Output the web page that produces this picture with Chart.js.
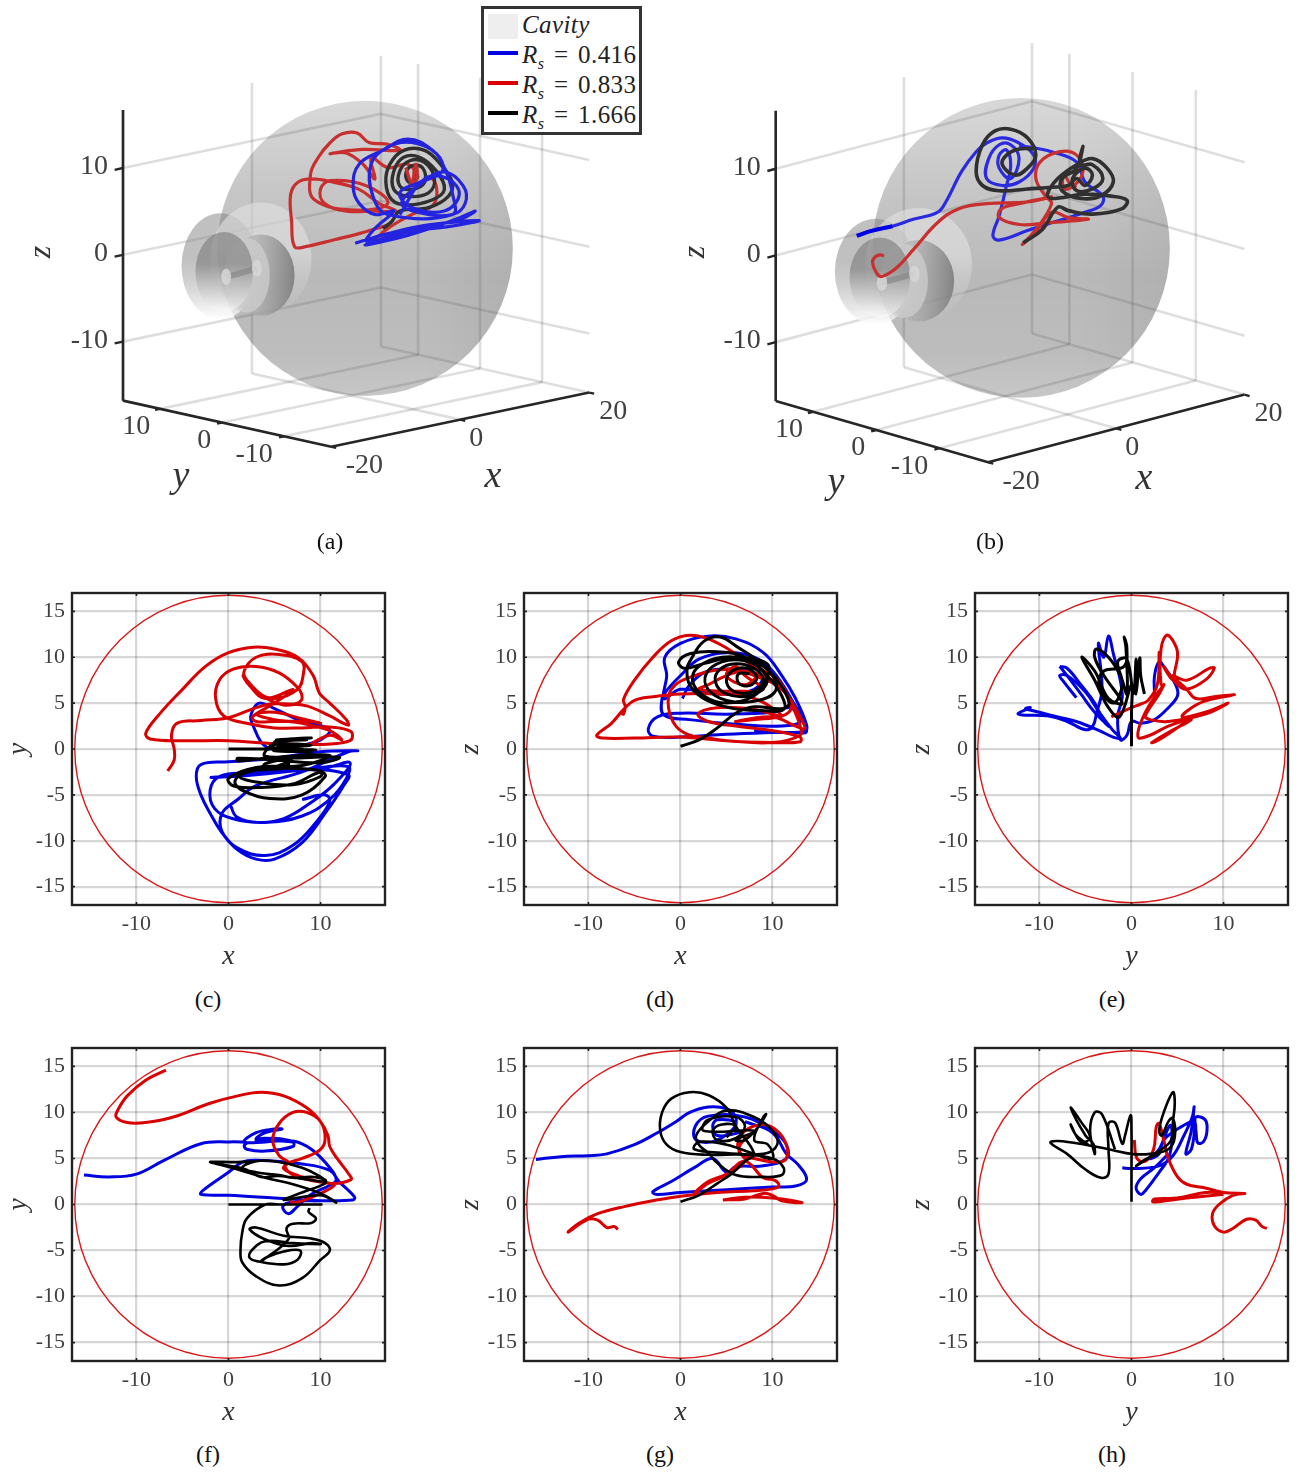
<!DOCTYPE html>
<html>
<head>
<meta charset="utf-8">
<script src="https://cdn.jsdelivr.net/npm/chart.js@4"></script>
<style>
  html, body { margin: 0; background: #fff; }
  #page { position: relative; width: 1300px; height: 1473px; overflow: hidden; font-family: "Liberation Serif", serif; }
  canvas { position: absolute; }
  .cap { position: absolute; font-size: 24px; color: #111; transform: translate(-50%, -50%); }
  #legend { position: absolute; left: 481px; top: 6px; width: 155px; height: 123px; border: 3px solid #333; background: #fff; }
  .row { position: absolute; left: 38px; font-size: 25px; color: #222; white-space: nowrap; line-height: 30px; word-spacing: 3px; letter-spacing: 0.4px; }
  .row i { font-style: italic; }
  .row sub { font-size: 16px; font-style: italic; line-height: 0; }
  .sw { position: absolute; left: 4px; width: 30px; height: 4px; }
</style>
</head>
<body>
<div id="page">
  <div id="legend">
    <div class="sw" style="top:5px;height:25px;background:#eee"></div><div class="row" style="top:1px"><i>Cavity</i></div>
    <div class="sw" style="top:42px;background:#0000e0"></div><div class="row" style="top:31px"><i>R</i><sub>s</sub> = 0.416</div>
    <div class="sw" style="top:72px;background:#d80000"></div><div class="row" style="top:61px"><i>R</i><sub>s</sub> = 0.833</div>
    <div class="sw" style="top:102px;background:#000"></div><div class="row" style="top:91px"><i>R</i><sub>s</sub> = 1.666</div>
  </div>
</div>
<script>
// tick labels
const xTicks2d = [-10, 0, 10];
const yTicks2d = [-15, -10, -5, 0, 5, 10, 15];
const xTicks3d = [-20, 0, 20];
const yTicks3d = [10, 0, -10];
const zTicks3d = [10, 0, -10];
const cavityRadius = 16.7;
const axisLim = 17;

// panel (c) x-y
const cRed = [[-6.6,-2.4],[-5.9,-1.2],[-5.9,0],[-6.2,1.5],[-5.6,2.8],[-3,3.1],[0,3.4],[2.7,4.4],[4.5,4.9],[6.5,4.9],[8.5,4.7],[11,3.6],[13,2.6],[12.8,3.2],[11,5],[10,5.9],[9.7,6.5],[9.2,8],[7.5,10],[5,10.9],[2.7,11.1],[0,10.5],[-2.5,9],[-5,6.5],[-7.5,3.8],[-9,1.7],[-8.5,1.1],[-5,0.9],[0,0.9],[5,0.6],[10,0.5],[13.2,0.9],[13.3,1.9],[11,2.4],[8,2.3],[5,2.3],[2.5,2.7],[-0.5,3.6],[-1.4,5.5],[-1,7.5],[0.5,8.7],[3,9],[5.5,8.3],[7.5,6.7],[8,5.6],[7.5,5],[6,4.8],[4,5.6],[2,7.5],[1.7,8.5],[3,10],[5.5,10.3],[8,9.5],[8.1,8],[7.5,6.5],[5,5.5],[3,6.3],[1.6,8],[2.2,7],[4,5.5],[7,6.5],[5,5],[2.6,3.5],[3,3],[5,3],[9,3],[10,2.8],[8,3.3],[5,4],[3,3.8],[5,3.2],[8,2.8],[11,2],[12.3,1],[11,1.5],[9,0.6]];
const cBlue = [[0.2,-6.1],[0.9,-7.4],[3.3,-8],[6,-7.6],[9,-5.8],[11.5,-3.8],[13.2,-1.5],[10,-2.2],[6,-2.3],[2,-2.8],[-1.9,-3.1],[3,-2.8],[8,-2.3],[13,-1.9],[12.8,-3.2],[11,-5.5],[8,-7.3],[4,-8],[0.5,-7.6],[-1.5,-6.5],[-2,-4.5],[-1,-3],[2,-2.6],[8,-2.2],[13,-2.8],[12.5,-4],[10.5,-7],[8,-10.2],[5,-12],[3,-12],[1,-11],[-0.8,-9],[-2,-7],[-3,-5],[-3.5,-3],[-3,-1.7],[0,-1.4],[5,-1],[10,-0.3],[14,-0.2],[13,-0.3],[8,-2.5],[3,-4],[1,-5.5],[-0.7,-7],[-0.7,-9],[1,-10.8],[4,-11.6],[7,-10.5],[9.5,-8],[11,-5.7],[10.5,-5],[8,-5.5]];
const cBlueUpper = [[4.5,-0.1],[3.5,0.8],[2.7,2.5],[2.4,3.5],[3,4.8],[3.6,5],[5,4.4],[8,3],[11,2.1],[10,1],[8,0.4]];
const cBlack = [[0,0],[5,0],[9.5,-0.1],[5,-0.2],[5,0.5],[9,0.4],[5,0.1],[9,-0.3],[5,0.8],[9,1.2],[5.2,1],[8.5,1],[5,0.6],[4,-0.8],[12,-0.9],[10,-1.5],[5,-1.2],[1,-1],[1,-1.3],[5,-0.9],[11,-0.7],[8,-1.8],[3,-2],[0,-3.2],[0.5,-4],[3,-4.2],[7,-3.8],[10,-2.5],[10.5,-3],[8,-5],[4.5,-5.4],[1.5,-4.5],[0.7,-3.5],[2,-2.5],[6,-2.1],[10,-2.4],[10,-3],[7,-3.9],[3,-3.6],[1.2,-3],[3,-2.3],[6,-2.1],[6.5,-1.5],[3.8,-2.3],[4,-1.6],[7,-1]];

// panel (d) x-z
const dRed = [[-6.4,3.9],[-6.2,3.8],[-6,4.6],[-6.2,5.4],[-5,7.5],[-3,10],[-1,11.8],[1,12.4],[3,12],[5,11],[8,9],[10,8],[11,7],[12,5],[13,2.5],[13,1.5],[10,0.7],[5,0.9],[0,1.3],[-5,1.2],[-8.5,1.2],[-9.1,1.5],[-7.5,2.8],[-6.1,4.4],[-5,5.3],[-3,5.7],[0,6],[4,6],[8,5.5],[11,3.6],[8,4.3],[4,4.5],[1.9,3.8],[3,3],[6,2.5],[10,2],[13,1.3],[13,0.8],[10,0.7],[5,0.9],[2.5,1.3],[1,1.5],[-0.5,2.5],[-1.3,4.5],[-1,6.5],[1,7.8],[5,8.7],[8,8],[11,6.5],[12,4.5],[11,3.6],[8,3.2],[6,3],[10,3.5],[12.5,2.5],[13.5,2.2],[13,3.5],[11.5,6],[10,7.5],[7,8.5],[5,8],[3,7],[2,6.5],[6,6.3],[9,6.5],[7,8],[6,9],[5,8],[7,7],[8.5,8]];
const dBlue = [[0.2,5.5],[1,7],[3,8.5],[6,8.7],[9,8.5],[8,6.5],[4,6],[0,6.5],[-1.8,5.5],[-1.5,8],[-1.7,10],[0,11.5],[3,12.3],[6,12],[9,10.5],[11,8],[12.5,5.5],[13.7,2.6],[13.5,1.9],[10,1.8],[5,1.6],[0,1.3],[-3,1.4],[-3.5,2.2],[-2.5,3.5],[0,3.9],[5,3.8],[10,4],[12,4.5],[13,3],[11,2.5],[6,2.7],[1,3.2],[-1.8,3.7],[-2,5.5],[-1.4,6.5],[0,8],[2,9.8],[5,10.5],[8,10],[10,8.5],[12,5.5],[13.7,2],[12,1.8],[8,2]];
const dBlack = [[0,0.3],[2,1],[4,2.3],[6,3.9],[8,4.6],[11,4.4],[11.8,5],[10.5,7.5],[8.3,9.7],[6.2,11.1],[4.3,12.2],[2.5,11.7],[1.1,9.7],[0.7,8.7],[1.1,6.8],[2.9,5.3],[5.8,4.4],[8.7,4.2],[11.2,4.3],[11,5.8],[9.4,8],[7,10],[4,10.6],[1.1,10.4],[-0.2,9.5],[0.4,8.8],[2.5,9.3],[5.8,10],[9.4,9.3],[9.3,7.5],[8,5.8],[5,5],[2.5,5.8],[1.3,7.5],[2,9],[4.5,10],[7.5,9.7],[9.8,8.3],[10.3,6.3],[8,5.2],[5,5.3],[3,6.5],[2.8,8.2],[4.5,9.5],[7,9.6],[9,8.5],[9.3,7],[7.5,5.8],[5,6],[3.8,7.3],[4.3,8.7],[6,9.3],[8,8.8],[9,7.5],[8,6.3],[6,6.2],[5,7.3],[5.6,8.5],[7.2,8.8],[8.3,7.8],[7.5,6.9],[6.3,7.2],[6.3,8.2],[7.5,8.2]];

// panel (e) y-z
const eRed = [[-2.2,3.5],[0,4.5],[1,4.9],[1.8,5.3],[2.8,7],[3,10.5],[3,9],[3.2,7],[3.1,9],[3.2,10.8],[3.5,12],[4,12.4],[4.9,11],[5,10],[4.7,8.5],[4.5,7.5],[3.5,9],[5,7],[6,6.5],[8,7.5],[9,8.8],[8.5,8.8],[6,7.5],[4.5,8],[6,6.5],[7,5.5],[9,5.7],[11.2,5.9],[9,5.5],[7,4.8],[5.5,3.5],[8,4],[10.5,5],[8,3.8],[4,3],[2,3.2],[1.5,3.6],[3,6],[3.5,7],[1.5,4],[0.7,1.3],[2,1.5],[4,2.5],[6.5,3.2],[4,1.8],[2.2,0.7],[3,1],[6,3]];
const eBlue = [[-6,5.6],[-7.5,7.5],[-7.8,8],[-7,8],[-5,6.2],[-3.5,4],[-2,2],[-1.2,1.2],[-2,1.3],[-3.5,2],[-6,3],[-8,3.5],[-10,4],[-11.5,4.4],[-11,4.5],[-12.3,3.8],[-9,3.6],[-7,3],[-5,2.1],[-4.2,2.5],[-3.8,3.9],[-3.2,6.5],[-3.6,11.5],[-3,10],[-2.5,12.3],[-2,10.5],[-1,6],[-1.5,3.5],[-1.2,1],[-0.5,1.5],[0,3],[1,2.8],[2.5,3.2],[4,4.5],[5,5.8],[4.8,7],[3.5,9],[3,9.5],[2.5,8],[2.5,6]];
const eBlueLeft = [[-7.8,9],[-7,8.8],[-5.5,7],[-4,5],[-3,3],[-2.5,2.5],[-4,4],[-5.5,6],[-7,8],[-7.8,9]];
const eBlack = [[0,0.3],[0,4],[0,7],[-1.3,3.5],[-2.5,4.5],[-4,7.5],[-5.4,10],[-4,8.5],[-2.5,5.5],[-1,5],[-3,8],[-4,10],[-3.8,10.9],[-2.5,10],[-1.2,8],[-0.5,6],[-0.6,11],[-0.8,12.2],[-0.5,11],[-0.8,9],[-3,8.5],[-3.5,7],[-2,5],[-1,7],[-1.5,9.5],[-0.5,9.8],[0.2,6],[0.5,9.8],[0.5,6],[0.9,9.9],[1,8],[1.4,6]];

// panel (f) x-y
const fRed = [[-6.8,14.6],[-9,13.5],[-11,11.8],[-12,10.3],[-12.2,9.5],[-11,8.9],[-9,8.9],[-6,9.5],[-2,11],[1,11.8],[3.5,12.2],[6,11.8],[8.5,10.5],[10,9],[10.8,7.5],[11,6.3],[11.8,5],[13,3.4],[13.3,2.7],[11,2.3],[8,3],[6,3.9],[6.5,4.5],[8,5],[10,6],[10.5,7.2],[10,9],[8.5,10],[7,10],[5.5,8.8],[4.8,7],[5.5,5.3],[6.5,4.6],[6.1,4.2],[7,3.2],[9,2.6],[11,2.3],[11.5,2.1],[10,1.2],[8,0.4],[7,0.2],[6.7,0.4]];
const fBlue = [[-15.7,3.2],[-13,3],[-10,3.3],[-7,4.8],[-3,6.6],[0,6.8],[2,6.7],[1.7,6.4],[2,6],[4,5.8],[7,6.3],[7,6.8],[4,7.2],[3,7],[5,7.2],[7,6.8],[4.5,7],[3,7.1],[4,7.8],[5.8,8.2],[5,8.2],[3,7.8],[1.7,6.8],[4,6.8],[7,6.9],[9,6],[11,4],[11.7,2.7],[11,2.1],[9,1.1],[7.5,-0.2],[6.5,-1],[5.9,-0.2],[7,0.3],[10,0.4],[13.5,0.5],[13.7,0.8],[12,2.5],[11,3.7],[8,4.4],[3,4.8],[1.5,4.6],[0,3.5],[-2.8,1.5],[-3,1.1],[0,1],[5,0.7],[10,0.4]];
const fBlack = [[0,0],[10,0],[5.5,0],[4,0],[2,-1.5],[1.5,-3],[1.3,-5],[1.5,-6.3],[3,-7.8],[5.5,-8.8],[8,-8],[10,-6],[11,-5],[10.5,-4.2],[9,-3.7],[6,-3.4],[3,-2.5],[2.3,-2.7],[4,-3.8],[6.5,-4.5],[9,-4.2],[10,-4.3],[7,-4.2],[4,-4],[2.5,-5],[2.3,-5.8],[3.3,-6.2],[6,-6.5],[7.5,-6],[7.8,-5],[6,-5.1],[4,-5.8],[3.5,-6.2],[6.5,-3.8],[6.3,-2.6],[7,-2.1],[9,-2],[9.5,-1.5],[8.7,-0.8],[8.8,-0.4]];
const fBlackUpper = [[-2,4.6],[1,3.8],[4,2.9],[7,2.2],[10,1.2],[11.7,0.2],[10,1],[6,0.5],[8,1.3],[10.5,2.3],[10.5,2.7],[9,3],[7,2.9],[5.5,3.2],[3,3.5],[1.5,4],[3,4.7],[5,4.7],[8,4],[10,3],[10.5,2.5],[8,2.8],[5.4,3.1],[3.5,3],[1.6,3.9],[-2,4.6],[1,4.6],[3,4.7]];

// panel (g) x-z
const gRed = [[-6.8,-2.7],[-7.2,-2.4],[-8,-2.5],[-9,-1.7],[-10,-1.6],[-12.2,-3],[-11,-2],[-9,-1],[-6,-0.2],[-3,0.4],[0,0.9],[4,1.3],[8,1.5],[10,1.7],[10.7,2],[10.3,2.6],[9,2.9],[7,4.7],[5,3.3],[3,2.5],[1.5,1.2],[3,2.3],[5,3.2],[7,4.7],[6.5,5.6],[6.2,6.5],[7,8],[9,8.7],[10.5,8],[11.5,6.5],[11.5,5],[10.5,4.6],[8,5],[6.5,5.5],[6.5,6.5],[7.5,7.5]];
const gRedLow = [[4.6,0.5],[7,0.8],[10,0.7],[13.2,0.2],[11,0.4],[10,1],[9,1.2],[7,0.6],[4.6,0.5]];
const gBlue = [[-15.7,4.9],[-13,5.2],[-10,5.3],[-8,5.5],[-5,6.5],[-2.5,7.8],[-0.5,9],[1,10],[3,10.6],[5,10.4],[6,9.5],[6,8],[6.3,7.8],[4,7.5],[3.5,8.5],[4,9.2],[6,8.8],[4,7],[1.7,7],[1.6,8.5],[3,9.6],[7,9.5],[10,8],[11.5,6.5],[11.5,5],[9,4.2],[6,4.1],[5,3.5],[3.5,5],[1.5,4],[-1,2.5],[-3,1.4],[-2.7,1.1],[0,1.3],[5,1.6],[10,1.9],[12.5,2],[13.7,2.7],[12.8,4.3],[11.5,5.5],[10,7.8],[7,9]];
const gBlack = [[0,0.3],[2,1],[4,2.3],[5.5,3.3],[7,4.7],[8,5.5],[6,8.5],[5,10.5],[3,11.9],[1,12.2],[-1,11.5],[-2,10],[-2.2,8],[-1.5,6.5],[0,5.7],[3,5.4],[7,5.4],[10,5],[11.2,4],[11,3.2],[9,3],[6,3.2],[4,4.5],[3,5.6],[2,6.5],[1.7,7.5],[3,9],[5,10.2],[8,9.5],[10,8],[10.5,6.5],[9,5.5],[5,5.6],[1.5,6],[2,6.8],[5,6.5],[8,5.5],[10,5],[9.5,6.5],[8,7],[9,9.5],[9.3,9.8],[8.5,8.5],[7,7],[6,7],[8,8],[2.5,8],[3,9.2],[6,9.5],[7,8.5],[6,7.2],[4,7],[3.5,8],[4.5,8.7],[6,8.5],[5,7.3]];

// panel (h) y-z
const hRed = [[14.7,-2.6],[14.2,-2.4],[13.5,-1.7],[12.5,-1.6],[11,-2.6],[10,-3],[9,-2.3],[8.8,-1],[9.5,0],[11,1],[12.3,1.2],[10,1.3],[8,1.8],[6,2.2],[5,3],[4,5],[3.5,7],[3,8.8],[2.7,8.5],[2.4,6],[1.5,4.7],[0.6,5],[0.3,7]];
const hRedLow = [[9.9,1.3],[8,1.3],[5,0.7],[2.5,0.6],[2.3,0.3],[3,0.3],[6,0.7],[9,1],[10,1.1]];
const hBlue = [[-1,4],[0,3.9],[3,4.2],[4.5,5.3],[5.7,7.5],[6.6,9.5],[6.8,10.6],[6.5,8],[5.9,5.5],[6.5,6],[6.9,8.5],[7,9.5],[8,9.2],[8.2,8],[7.8,6.8],[7.2,6.7],[7,8],[6.8,9],[5.5,8.5],[3.5,7],[3,5.5],[2,5],[3,6],[4.2,8.6],[4.4,7],[4,5],[3,3.5],[1.5,1.5],[1,1.1],[0.5,1.8],[1,2.8],[2.5,4],[4,5.5]];
const hBlack = [[0,0.3],[0,4],[0,8],[-0.1,9.7],[-0.7,7.5],[-1,6.6],[-1.8,8.9],[-2.5,8.8],[-2.5,6],[-2.5,3.3],[-3.3,2.9],[-5,3.8],[-7,5.5],[-8.8,6.7],[-8,6.9],[-5,6.5],[-2,5.9],[0,5.5],[2,5.5],[4,6],[4.7,7.3],[4.5,9.4],[4,9],[3.3,7.5],[3,8],[3.5,10],[4.5,12.2],[4.7,11],[4.5,9],[4.3,7],[3,5.8],[1,4.5],[0.5,4.2],[1.5,4.9],[3,5.5]];
const hBlackLeft = [[-1.8,6],[-3.2,9.8],[-4,10],[-4.5,8],[-4,5.5],[-4.1,6.5],[-5,7.5],[-6.6,10.5],[-5.5,9],[-4.5,7.3],[-5.5,6.8],[-6.6,8.7],[-6,7.5],[-4.7,6.5]];

// panel (a), curves as seen in the view plane
const aRed = [[2.1,3.3],[-0.8,2.3],[-3.3,1.6],[-6.2,0.8],[-7.3,0.8],[-7.6,3.7],[-7.7,6.8],[-7,8.2],[-5.6,8.6],[-3.3,8.2],[-0.8,7.4],[1.2,5.8],[2.9,4.9],[0.8,4.9],[-2.1,4.9],[-4.3,5.8],[-4.7,7.4],[-3.7,8.4],[0,7.8],[2.1,5.8],[-1,5],[-5.3,6.2],[-5.7,9.1],[-4.9,11.1],[-3.7,12.8],[-2.5,13.8],[-1,13.9],[0.2,12.8],[2.1,12.6],[3.3,11.9],[-0.5,12],[-3.7,11.5],[-2.1,11.6],[-0.4,10.3],[0.8,8.6],[0.4,11.1],[2.1,9.9],[4.1,10.3],[4.9,9.1],[4.5,7.8],[6.6,8.6],[6.8,5.8],[4.5,4.5],[2.1,2.9],[0.4,1.2]];
const aRedInner = [[3.9,9.9],[4.5,8.2],[4.9,10.3],[5,8.5],[4.2,7.8]];
const aBlue = [[-1.2,1.2],[2.1,2.3],[6.2,3.3],[11.3,3.8],[8.2,3.1],[4.1,2.5],[-0.2,1],[4.1,2.1],[8.6,3.8],[10.9,4.9],[9.5,4],[5.3,2.9],[0,1.4],[0.8,2.9],[2.7,4.9],[0.8,4.5],[-0.8,5.8],[-1.4,7.8],[-0.8,10.3],[1.6,11.9],[4.1,13.2],[6.6,11.9],[7.8,9.9],[8.6,7],[8.6,4.5],[2.1,4.5],[0.6,6.6],[0.4,10.3],[2.1,12.3],[4.5,12.8],[7,11.5],[7.6,9.5],[5.6,8.2],[3.5,5.8],[5.3,4.7],[8.6,4.5],[9.9,5.8],[9.7,7.8],[7.8,9.4],[5.3,8.2],[3.3,7],[4.5,5.3],[7.8,4.9],[9.3,6.8],[8.2,8.6],[5.8,8.6],[3.3,4.5]];
const aBlack = [[1.6,2.9],[2.5,3.7],[3.3,4.9],[6.2,5.3],[8.2,6.6],[8.6,8.2],[7.4,10.3],[5.8,11.9],[3.7,11.9],[2.3,10.3],[1.9,8.2],[2.5,6.2],[4.1,5.6],[6.6,6.2],[7.8,7.4],[7,9.5],[5.3,11.1],[3.7,11.1],[2.7,9.5],[2.7,7.4],[4.1,6.6],[6.2,7],[6.8,8.6],[5.8,10.5],[4.3,10.7],[3.3,9.5],[3.3,7.8],[4.5,7.4],[5.8,8.2],[5.6,9.9],[4.5,10.1],[3.9,9.1],[4.3,8.2],[5.1,8.8],[4.7,9.5]];

// panel (b), curves as seen in the view plane
const bBlue = [[-15.9,2.1],[-14.4,2.7],[-12.5,3.2],[-10.5,4],[-8.2,4.8],[-7.4,6],[-5.9,9.5],[-4.5,11.8],[-3.5,12.8],[-2,13.4],[-0.4,12.8],[1,11.4],[1,9.9],[-0.4,8.3],[-2,7.9],[-3.5,8.7],[-3.3,11],[-2.3,12.6],[-1.2,12.6],[-0.4,11],[-1.2,8.7],[-2.3,9.9],[-2.3,11.4],[-1.6,12],[-1.2,10.3],[-1.6,7.9],[-2.3,4.4],[-2.9,2.1],[-2.3,1.6],[0.4,2.7],[2.7,3.6],[5.9,4.8],[7.4,5.6],[7.6,6.7],[5.9,8.3],[5.1,10.6],[2.7,11.8],[1.2,12.2],[-0.4,12.5]];
const bBlueStart = [[-15.9,2.1],[-14.4,2.7],[-12.5,3.2]];
const bRed = [[-13.3,-0.2],[-13.7,-0.1],[-14.1,-0.3],[-14.4,-0.9],[-14,-2.2],[-13.5,-2.6],[-12.1,-1.6],[-10.5,0.5],[-8.2,3.6],[-6.2,5.2],[-3.5,5.8],[0.4,6],[2.7,6.6],[-0.4,5.8],[-2.1,5.2],[-2.3,4.2],[-0.4,3.4],[2.3,3.6],[6.2,4],[4.3,4.2],[2.7,4.8],[1.2,2.5],[-0.1,1.1],[1.2,2.8],[2.7,5.8],[2.1,6.7],[1.2,8.7],[1.6,10.6],[3.5,11.8],[5.1,11.4],[5.7,9.5],[4.7,7.9],[3.9,9.1],[3.9,7.5],[5.1,7.9]];
const bBlack = [[0,1.3],[1.8,2.8],[3.3,5.4],[4.3,5],[6.6,4.6],[9.4,5.2],[9.9,6.2],[8.2,6.7],[5.9,6.9],[2.7,6.4],[2.3,6.9],[3.3,8.7],[5.1,10.3],[6.6,11],[8,9.9],[8.6,8.3],[7.4,6.7],[5.5,6.4],[3.7,7.3],[3.7,8.7],[5.1,9.9],[5.7,12.4],[5.4,10.3],[6.6,10.3],[7.6,8.7],[6.6,7.5],[5.1,7.3],[4.7,8.7],[5.9,9.9],[6.6,9.1],[5.9,7.9],[5.1,8.7],[4.3,7.9],[2.7,7.7],[0.4,7.5],[-2.3,7.3],[-3.9,7.9],[-4.5,9.5],[-3.9,12.6],[-2.7,14.2],[-1.2,14.4],[0.4,13.4],[1.2,11.4],[0.4,9.9],[-0.8,9.1],[-2,10.3],[-1.6,11.4],[-0.4,12.1],[1.2,12.1]];

const blue = '#0000e0', red = '#d80000', black = '#000';
const tickFont = '"Liberation Serif", serif';
const page = document.getElementById('page');

function pts(a) { return a.map(p => ({ x: p[0], y: p[1] })); }
function line(a, color, width) {
  return { data: pts(a), borderColor: color, borderWidth: width, pointRadius: 0, tension: 0.4, showLine: true, fill: false };
}
function straight(a, color, width) {
  return { data: a.map(p => ({ x: p.x, y: p.y })), borderColor: color, borderWidth: width, pointRadius: 0, tension: 0, showLine: true, fill: false };
}
function addCanvas(left, top, w, h) {
  const c = document.createElement('canvas');
  c.width = w; c.height = h;
  c.style.left = left + 'px'; c.style.top = top + 'px';
  c.style.width = w + 'px'; c.style.height = h + 'px';
  page.insertBefore(c, page.firstChild);
  return c;
}
function caption(text, x, y) {
  const d = document.createElement('div');
  d.className = 'cap'; d.textContent = text;
  d.style.left = x + 'px'; d.style.top = y + 'px';
  page.appendChild(d);
}

// box, inward ticks and the cavity circle of the 2D panels
const boxPlugin = {
  id: 'box',
  beforeDatasetsDraw(chart) {
    const { ctx, scales: { x, y } } = chart;
    ctx.save();
    const r = x.getPixelForValue(cavityRadius) - x.getPixelForValue(0);
    ctx.strokeStyle = '#d81818';
    ctx.lineWidth = 1.4;
    ctx.beginPath();
    ctx.arc(x.getPixelForValue(0), y.getPixelForValue(0), r, 0, Math.PI * 2);
    ctx.stroke();
    ctx.restore();
  },
  afterDatasetsDraw(chart) {
    const { ctx, chartArea: a, scales: { x, y } } = chart;
    ctx.save();
    ctx.strokeStyle = '#222';
    ctx.lineWidth = 1.6;
    ctx.beginPath();
    xTicks2d.forEach(v => {
      const p = x.getPixelForValue(v);
      ctx.moveTo(p, a.bottom); ctx.lineTo(p, a.bottom - 3);
      ctx.moveTo(p, a.top); ctx.lineTo(p, a.top + 3);
    });
    yTicks2d.forEach(v => {
      const p = y.getPixelForValue(v);
      ctx.moveTo(a.left, p); ctx.lineTo(a.left + 3, p);
      ctx.moveTo(a.right, p); ctx.lineTo(a.right - 3, p);
    });
    ctx.stroke();
    ctx.lineWidth = 2.4;
    ctx.strokeRect(a.left, a.top, a.right - a.left, a.bottom - a.top);
    ctx.restore();
  }
};

function panel2d(left, top, height, xName, yName, sets) {
  const canvas = addCanvas(left - 72, top - 5, 72 + 313 + 5, 5 + height + 72);
  new Chart(canvas, {
    type: 'scatter',
    data: { datasets: sets },
    plugins: [boxPlugin],
    options: {
      responsive: false,
      animation: false,
      layout: { padding: { top: 5, right: 5, left: 0, bottom: 0 } },
      plugins: { legend: { display: false }, tooltip: { enabled: false } },
      scales: {
        x: {
          type: 'linear', min: -axisLim, max: axisLim,
          afterBuildTicks: s => { s.ticks = xTicks2d.map(v => ({ value: v })); },
          afterFit: s => { s.height = 72; s.paddingLeft = 0; s.paddingRight = 0; },
          grid: { color: 'rgba(0,0,0,0.16)', lineWidth: 2.2, drawTicks: false },
          border: { display: false },
          ticks: { color: '#404040', font: { family: tickFont, size: 22 }, padding: 6, maxRotation: 0, autoSkip: false, callback: v => String(v) },
          title: { display: true, text: xName, color: '#333', font: { family: tickFont, size: 28, style: 'italic' }, padding: { top: 0, bottom: 4 } }
        },
        y: {
          type: 'linear', min: -axisLim, max: axisLim,
          afterBuildTicks: s => { s.ticks = yTicks2d.map(v => ({ value: v })); },
          afterFit: s => { s.width = 72; s.paddingTop = 0; s.paddingBottom = 0; },
          grid: { color: 'rgba(0,0,0,0.16)', lineWidth: 2.2, drawTicks: false },
          border: { display: false },
          ticks: { color: '#404040', font: { family: tickFont, size: 22 }, padding: 7, autoSkip: false, callback: v => String(v) },
          title: { display: true, text: yName, color: '#333', font: { family: tickFont, size: 28, style: 'italic' }, padding: { top: 2, bottom: 0 } }
        }
      }
    }
  });
}

// 3D panels: view plane scales, hidden, with axes projected onto them
function panel3d(cfg) {
  const canvas = addCanvas(cfg.left, 0, 650, 540);
  const p3 = (x, y, z) => ({
    x: cfg.u0 + cfg.xu * x + cfg.yu * y,
    y: cfg.v0 + cfg.xv * x + cfg.yv * y + z
  });
  const [yMin, yMax] = cfg.yLim, zMin = -16.8, zMax = 16.7, xMin = -20, xMax = 20;
  const gridC = 'rgba(0,0,0,0.13)', axC = '#262626';
  const grid = [];
  const seg = (a, b, c, w) => grid.push(straight([a, b], c, w));
  zTicks3d.forEach(z => {
    seg(p3(xMin, yMax, z), p3(xMax, yMax, z), gridC, 2.6);
    seg(p3(xMax, yMax, z), p3(xMax, yMin, z), gridC, 2.6);
  });
  yTicks3d.forEach(y => {
    seg(p3(xMin, y, zMin), p3(xMax, y, zMin), gridC, 2.6);
    seg(p3(xMax, y, zMin), p3(xMax, y, zMax), gridC, 2.6);
  });
  xTicks3d.forEach(x => {
    seg(p3(x, yMax, zMin), p3(x, yMax, zMax), gridC, 2.6);
    if (x > xMin) seg(p3(x, yMin, zMin), p3(x, yMax, zMin), gridC, 2.6);
  });
  const axes = [];
  const ax = (a, b, w) => axes.push(straight([a, b], axC, w));
  ax(p3(xMin, yMax, zMin), p3(xMin, yMax, zMax), 2.6);
  ax(p3(xMin, yMax, zMin), p3(xMin, yMin, zMin), 2.6);
  ax(p3(xMin, yMin, zMin), p3(xMax, yMin, zMin), 2.6);
  zTicks3d.forEach(z => ax(p3(xMin, yMax, z), p3(xMin - 1.3, yMax, z), 2.4));
  yTicks3d.forEach(y => ax(p3(xMin, y, zMin), p3(xMin - 0.8, y, zMin), 2.4));
  xTicks3d.forEach(x => ax(p3(x, yMin, zMin), p3(x, yMin - 0.8, zMin), 2.4));

  const sets = [...axes, ...cfg.curves];
  const firstCurveDrawn = sets.length - 1;

  const solids = {
    id: 'solids',
    beforeDatasetDraw(chart, args) {
      if (args.index !== firstCurveDrawn) return;
      const { ctx, scales: { x: xs, y: ys } } = chart;
      const px = u => xs.getPixelForValue(u + cfg.cavU);
      const py = v => ys.getPixelForValue(v + cfg.cavV);
      const ell = (cx, cy, rx, ry, style) => {
        ctx.fillStyle = style;
        ctx.beginPath();
        ctx.ellipse(cx, cy, rx, ry, 0, 0, Math.PI * 2);
        ctx.fill();
      };
      const sx = xs.getPixelForValue(cfg.sphere[0]), sy = ys.getPixelForValue(cfg.sphere[1]);
      const srx = xs.getPixelForValue(cfg.sphere[0] + cfg.sphere[2]) - sx;
      const sry = sy - ys.getPixelForValue(cfg.sphere[1] + cfg.sphere[3]);
      ctx.save();
      // cavity sphere
      let g = ctx.createLinearGradient(0, sy - sry, 0, sy + sry);
      g.addColorStop(0, 'rgba(80,80,80,0.22)');
      g.addColorStop(0.3, 'rgba(80,80,80,0.32)');
      g.addColorStop(0.6, 'rgba(80,80,80,0.40)');
      g.addColorStop(0.85, 'rgba(80,80,80,0.38)');
      g.addColorStop(1, 'rgba(80,80,80,0.32)');
      ell(sx, sy, srx, sry, g);
      g = ctx.createLinearGradient(sx - srx, 0, sx + srx, 0);
      g.addColorStop(0, 'rgba(0,0,0,0)');
      g.addColorStop(0.7, 'rgba(0,0,0,0)');
      g.addColorStop(1, 'rgba(0,0,0,0.05)');
      ell(sx, sy, srx, sry, g);

      // inlet: outer disc, flared part, dark collar, inner disc, rod
      const unitU = xs.getPixelForValue(1) - xs.getPixelForValue(0);
      const unitV = ys.getPixelForValue(0) - ys.getPixelForValue(1);
      const vg = (v, rv, top, bot) => {
        const lg = ctx.createLinearGradient(0, py(v) - rv * unitV, 0, py(v) + rv * unitV);
        lg.addColorStop(0, top); lg.addColorStop(0.4, top); lg.addColorStop(1, bot);
        return lg;
      };
      ell(px(-14.8), py(-1.44), 3.9 * unitU, 6.1 * unitV, vg(-1.44, 6.1, 'rgba(130,130,130,0.5)', 'rgba(255,255,255,0.8)'));
      ell(px(-10.7), py(-0.6), 5.1 * unitU, 6.5 * unitV, vg(-0.6, 6.5, 'rgba(225,225,225,0.62)', 'rgba(200,200,200,0.15)'));
      const hg = ctx.createLinearGradient(px(-14), 0, px(-7.3), 0);
      hg.addColorStop(0, 'rgba(190,190,190,0.4)');
      hg.addColorStop(0.55, 'rgba(160,160,160,0.7)');
      hg.addColorStop(1, 'rgba(120,120,120,0.85)');
      ell(px(-10.7), py(-2.5), 3.4 * unitU, 4.7 * unitV, hg);
      ell(px(-12.1), py(-2.5), 2.3 * unitU, 4.3 * unitV, 'rgba(205,205,205,0.75)');
      ell(px(-14.4), py(-2.1), 2.9 * unitU, 4.6 * unitV, vg(-2.1, 4.6, 'rgba(125,125,125,0.62)', 'rgba(255,255,255,0.55)'));
      ctx.strokeStyle = 'rgba(130,130,130,0.6)';
      ctx.lineWidth = 6;
      ctx.beginPath();
      ctx.moveTo(px(-14.2), py(-2.7));
      ctx.lineTo(px(-11.1), py(-1.7));
      ctx.stroke();
      ell(px(-14.2), py(-2.7), 0.5 * unitU, 0.95 * unitV, 'rgba(215,215,215,0.85)');
      ell(px(-11.1), py(-1.7), 0.5 * unitU, 0.95 * unitV, 'rgba(215,215,215,0.85)');
      ctx.restore();
    },
    afterDraw(chart) {
      const { ctx, scales: { x: xs, y: ys } } = chart;
      const txt = (s, pos, dx, dy, align) => {
        ctx.textAlign = align || 'center';
        ctx.textBaseline = 'middle';
        ctx.fillText(s, xs.getPixelForValue(pos.x) + dx, ys.getPixelForValue(pos.y) + dy);
      };
      ctx.save();
      ctx.fillStyle = '#404040';
      ctx.font = '28px ' + tickFont;
      zTicks3d.forEach(z => txt(String(z), p3(xMin, yMax, z), -15, -1, 'right'));
      yTicks3d.forEach((y, i) => txt(String(y), p3(xMin, y, zMin), cfg.yLabelDx[i], 18));
      xTicks3d.forEach((x, i) => txt(String(x), p3(x, yMin, zMin), cfg.xLabelDx[i], 19));
      ctx.font = 'italic 38px ' + tickFont;
      ctx.fillStyle = '#333';
      ctx.fillText('y', cfg.yName[0] - cfg.left, cfg.yName[1]);
      ctx.fillText('x', cfg.xName[0] - cfg.left, cfg.xName[1]);
      ctx.translate(cfg.zName[0] - cfg.left, cfg.zName[1]);
      ctx.rotate(-Math.PI / 2);
      ctx.font = 'italic 32px ' + tickFont;
      ctx.fillText('z', 0, 0);
      ctx.restore();
    }
  };

  new Chart(canvas, {
    type: 'scatter',
    data: { datasets: [...sets, ...grid] },
    plugins: [solids],
    options: {
      responsive: false,
      animation: false,
      layout: { padding: 0 },
      plugins: { legend: { display: false }, tooltip: { enabled: false } },
      scales: {
        x: { type: 'linear', display: false, min: cfg.uLim[0], max: cfg.uLim[1] },
        y: { type: 'linear', display: false, min: cfg.vLim[0], max: cfg.vLim[1] }
      }
    }
  });
}

panel3d({
  left: 0, uLim: [-37, 28.53], vLim: [-33, 29.22],
  u0: -1.6, v0: 0.45, xu: 0.65, xv: 0.156, yu: -0.625, yv: 0.158, yLim: [-17.6, 16],
  sphere: [-0.2, 0.6, 14.9, 17], cavU: 0, cavV: 0,
  yLabelDx: [-24, -18, -30], xLabelDx: [33, 16, 24],
  yName: [181, 477], xName: [493, 477], zName: [42, 252],
  curves: [line(aBlue, '#2424e0', 3.2), line(aRedInner, '#c83030', 3.2), line(aBlack, '#303030', 3.4), line(aRed, '#c83030', 3.2)]
});
panel3d({
  left: 650, uLim: [-35.65, 26.43], vLim: [-33, 29.3],
  u0: -1.8, v0: 0.39, xu: 0.612, xv: 0.195, yu: -0.604, yv: 0.21, yLim: [-17.7, 15.9],
  sphere: [-0.2, 0.7, 14.2, 17.3], cavU: 0.7, cavV: -0.6,
  yLabelDx: [-24, -18, -30], xLabelDx: [33, 16, 24],
  yName: [836, 483], xName: [1144, 479], zName: [696, 252],
  curves: [line(bBlueStart, '#0000e8', 4), line(bBlack, '#303030', 3.6), line(bRed, '#c83030', 3.2), line(bBlue, '#2a2ae0', 3.2)]
});

const W2 = 3;
panel2d(72, 593, 312, 'x', 'y', [line(cBlack, black, W2), line(cRed, red, W2), line(cBlue, blue, W2), line(cBlueUpper, blue, W2)]);
panel2d(524, 593, 312, 'x', 'z', [line(dBlack, black, W2), line(dRed, red, W2), line(dBlue, blue, W2)]);
panel2d(975, 593, 312, 'y', 'z', [line(eBlack, black, W2), line(eRed, red, W2), line(eBlue, blue, W2), line(eBlueLeft, blue, W2)]);
panel2d(72, 1048, 313, 'x', 'y', [line(fBlack, black, 2.6), line(fBlackUpper, black, 2.6), line(fRed, red, W2), line(fBlue, blue, W2)]);
panel2d(524, 1048, 313, 'x', 'z', [line(gBlack, black, 2.6), line(gRed, red, W2), line(gRedLow, red, W2), line(gBlue, blue, W2)]);
panel2d(975, 1048, 313, 'y', 'z', [line(hBlack, black, 2.6), line(hBlackLeft, black, 2.6), line(hRed, red, W2), line(hRedLow, red, W2), line(hBlue, blue, W2)]);

caption('(a)', 330, 541);
caption('(b)', 990, 541);
caption('(c)', 208, 999);
caption('(d)', 660, 999);
caption('(e)', 1112, 999);
caption('(f)', 208, 1454);
caption('(g)', 660, 1454);
caption('(h)', 1112, 1454);
</script>
</body>
</html>
